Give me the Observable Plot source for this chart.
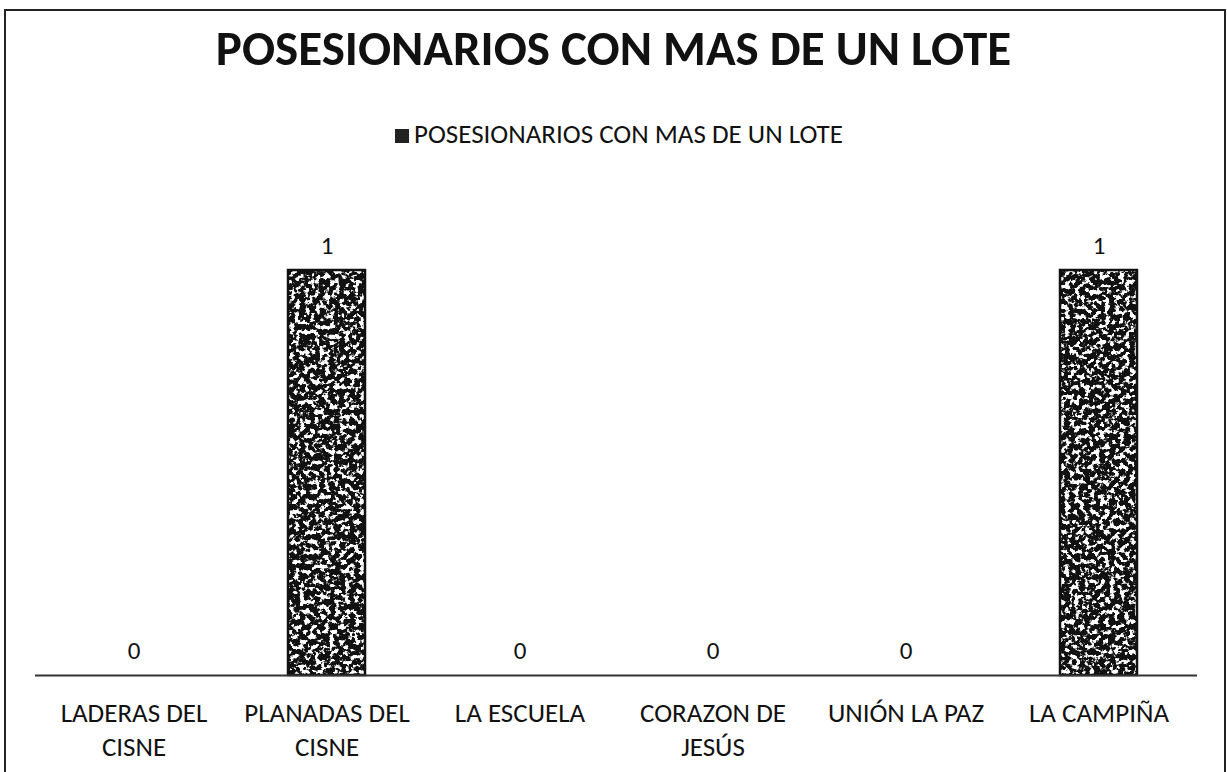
<!DOCTYPE html>
<html>
<head>
<meta charset="utf-8">
<script src="https://cdn.jsdelivr.net/npm/d3@7"></script>
<script src="https://cdn.jsdelivr.net/npm/@observablehq/plot@0.6"></script>
<style>
  html, body { margin: 0; padding: 0; background: #fff; width: 1227px; height: 772px; overflow: hidden; position: relative; }
  body { font-family: Carlito, Lato, "Open Sans", sans-serif; color: #111; }
  #frame { position: absolute; left: 4px; top: 9px; width: 1222px; height: 780px; border: 2px solid #222; box-sizing: border-box; }
  #title { position: absolute; left: 0; top: 3px; width: 1227px; height: 90px; line-height: 90px; text-align: center; font-weight: bold; font-size: 49px; }
  #legend { position: absolute; left: 395px; top: 119px; height: 30px; line-height: 30px; font-size: 27px; white-space: nowrap; }
  #legend .sw { display: inline-block; width: 14px; height: 14px; background: #222; margin-right: 5px; vertical-align: 0px; }
  #chart { position: absolute; left: 0; top: 160px; }
</style>
</head>
<body>
<div id="frame"></div>
<div id="title"></div>
<div id="legend"><span class="sw"></span><span id="legtext"></span></div>
<div id="chart"></div>
<script>
const titleText = "POSESIONARIOS CON MAS DE UN LOTE";
const seriesName = "POSESIONARIOS CON MAS DE UN LOTE";
const categories = ["LADERAS DEL CISNE", "PLANADAS DEL CISNE", "LA ESCUELA", "CORAZON DE JESÚS", "UNIÓN LA PAZ", "LA CAMPIÑA"];
const tickLabels = ["LADERAS DEL\nCISNE", "PLANADAS DEL\nCISNE", "LA ESCUELA", "CORAZON DE\nJESÚS", "UNIÓN LA PAZ", "LA CAMPIÑA"];
const values = [0, 1, 0, 0, 0, 1];

document.getElementById("title").textContent = titleText;
document.getElementById("legtext").textContent = seriesName;

const data = categories.map((c, i) => ({category: c, value: values[i]}));
const labelOf = new Map(categories.map((c, i) => [c, tickLabels[i]]));
const font = 'Carlito, Lato, "Open Sans", sans-serif';

const chart = Plot.plot({
  width: 1227,
  height: 612,
  marginLeft: 35,
  marginRight: 30,
  marginTop: 110,
  marginBottom: 97,
  style: {fontFamily: font, fontSize: "25px", color: "#111", background: "transparent"},
  x: {domain: categories, paddingInner: 0.6, paddingOuter: 0.3, axis: null},
  y: {domain: [0, 1], axis: null},
  marks: [
    Plot.barY(data, {x: "category", y: "value", fill: "#111"}),
    Plot.barY(data, {x: "category", y: "value", fill: "none", stroke: "#111", strokeWidth: 2.5}),
    Plot.ruleY([0], {stroke: "#333", strokeWidth: 2}),
    Plot.text(data, {x: "category", y: "value", text: d => String(d.value), dy: -25, fontSize: 25, fill: "#111"}),
    Plot.axisX({tickSize: 0, tickPadding: 23, fontSize: 27, lineHeight: 1.24, label: null, tickFormat: d => labelOf.get(d), fill: "#111"})
  ]
});

// speckled texture filter for the filled bars
const defs = document.createElementNS("http://www.w3.org/2000/svg", "defs");
defs.innerHTML = `
  <filter id="speckle" x="0" y="0" width="100%" height="100%" filterUnits="objectBoundingBox" color-interpolation-filters="sRGB">
    <feTurbulence type="fractalNoise" baseFrequency="0.2" numOctaves="3" seed="11" result="n"/>
    <feColorMatrix in="n" type="matrix" values="0 0 0 0 1  0 0 0 0 1  0 0 0 0 1  10 0 0 0 -5.1" result="w"/>
    <feComposite in="w" in2="SourceGraphic" operator="atop"/>
  </filter>`;
chart.insertBefore(defs, chart.firstChild);
const barGroups = chart.querySelectorAll('g[aria-label="bar"]');
d3.select(barGroups[0]).selectAll("rect").attr("filter", "url(#speckle)");

document.getElementById("chart").appendChild(chart);
</script>
</body>
</html>
